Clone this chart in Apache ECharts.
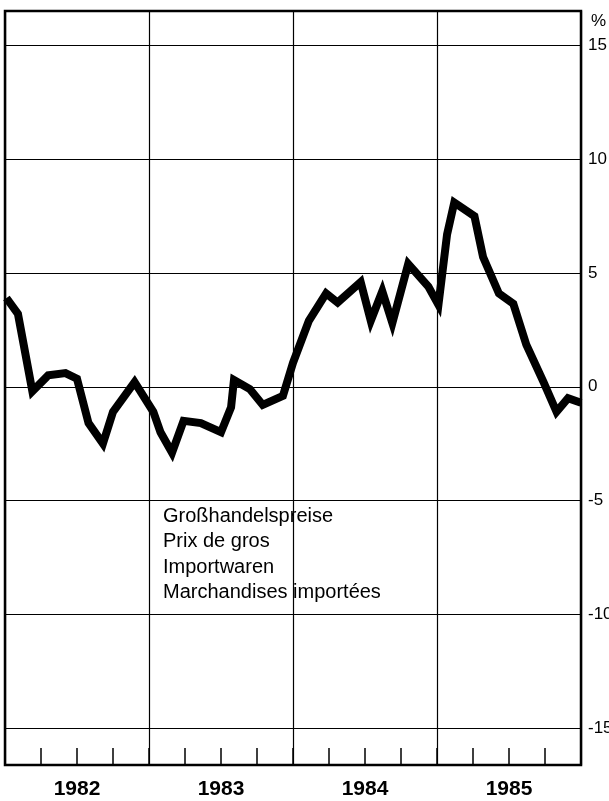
<!DOCTYPE html>
<html>
<head>
<meta charset="utf-8">
<script src="https://cdn.jsdelivr.net/npm/echarts@6/dist/echarts.min.js"></script>
<style>
html,body{margin:0;padding:0;background:#fff;}
#chart{width:609px;height:801px;}
</style>
</head>
<body>
<div id="chart"></div>
<script>
// Time position (decimal years) of each vertex of the line
const times = [1982.01, 1982.09, 1982.19, 1982.30, 1982.42, 1982.50, 1982.58, 1982.68, 1982.75, 1982.90,
  1983.03, 1983.08, 1983.16, 1983.24, 1983.36, 1983.50, 1983.57, 1983.59, 1983.70, 1983.79, 1983.93,
  1984.00, 1984.11, 1984.23, 1984.31, 1984.47, 1984.54, 1984.62, 1984.69, 1984.80, 1984.94,
  1985.01, 1985.07, 1985.12, 1985.26, 1985.32, 1985.43, 1985.53, 1985.62, 1985.74, 1985.83, 1985.91, 1986.00];
// Wholesale import prices, % change
const values = [3.9, 3.2, -0.2, 0.5, 0.6, 0.35, -1.6, -2.5, -1.1, 0.2,
  -1.1, -2.0, -2.9, -1.5, -1.6, -2.0, -0.9, 0.3, -0.1, -0.8, -0.4,
  1.05, 2.9, 4.1, 3.7, 4.6, 2.9, 4.2, 2.8, 5.4, 4.4,
  3.6, 6.7, 8.1, 7.5, 5.7, 4.1, 3.65, 1.85, 0.2, -1.1, -0.5, -0.7];
const yearLabels = ['1982', '1983', '1984', '1985'];
const yTicks = [-15, -10, -5, 0, 5, 10, 15];
const unitLabel = '%';
const noteLines = ['Großhandelspreise', 'Prix de gros', 'Importwaren', 'Marchandises importées'];

const chart = echarts.init(document.getElementById('chart'));
const FONT = '"Liberation Sans", Arial, Helvetica, sans-serif';
const noteY = [516, 541, 567, 592];

const option = {
  backgroundColor: '#fff',
  animation: false,
  title: [{
    text: unitLabel, left: 586, top: 8,
    textStyle: {fontFamily: FONT, fontSize: 17, fontWeight: 'normal', color: '#000'}
  }],
  graphic: noteLines.map((t, i) => ({
    type: 'text', x: 163, y: noteY[i], silent: true,
    style: {text: t, fill: '#000', font: '20px ' + FONT, verticalAlign: 'middle', align: 'left'}
  })),
  grid: [
    {left: 5, right: 28, top: 11, bottom: 36, show: true, borderColor: '#000', borderWidth: 2.5,
      backgroundColor: 'transparent', containLabel: false, outerBoundsMode: 'none'},
    {left: 5, right: 28, top: 45.5, bottom: 73, containLabel: false, outerBoundsMode: 'none'}
  ],
  xAxis: [
    {gridIndex: 0, type: 'value', min: 1982, max: 1986, interval: 1,
      axisLine: {show: false}, axisTick: {show: false}, axisLabel: {show: false},
      splitLine: {show: true, lineStyle: {color: '#000', width: 1.2}}},
    {gridIndex: 0, type: 'value', min: 1982, max: 1986, interval: 0.25, position: 'bottom',
      axisLine: {show: false},
      axisTick: {show: true, inside: true, length: 17, lineStyle: {color: '#000', width: 1.5}},
      splitLine: {show: false},
      axisLabel: {show: true, margin: 14, color: '#000', fontFamily: FONT, fontSize: 21, fontWeight: 'bold',
        formatter: function (v) {
          const f = Math.floor(v);
          return Math.abs(v - f - 0.5) < 1e-6 ? (yearLabels[f - 1982] || '') : '';
        }}},
    {gridIndex: 1, type: 'value', min: 1982, max: 1986, show: false}
  ],
  yAxis: [
    {gridIndex: 0, type: 'value', min: 0, max: 1, show: false},
    {gridIndex: 1, type: 'value', position: 'right', min: yTicks[0], max: yTicks[yTicks.length - 1], interval: 5,
      axisLine: {show: false}, axisTick: {show: false},
      axisLabel: {show: true, margin: 7, color: '#000', fontFamily: FONT, fontSize: 17, align: 'left'},
      splitLine: {show: true, lineStyle: {color: '#000', width: 1.2}}}
  ],
  series: [{
    type: 'line', xAxisIndex: 2, yAxisIndex: 1,
    data: times.map((t, i) => [t, values[i]]),
    showSymbol: false, symbol: 'none',
    lineStyle: {color: '#000', width: 8, join: 'miter'},
    clip: false
  }]
};
chart.setOption(option);
</script>
</body>
</html>
